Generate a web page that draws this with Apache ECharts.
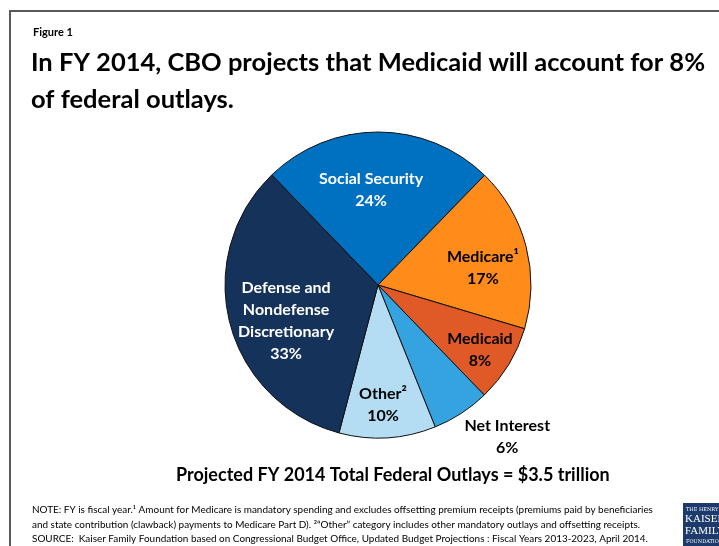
<!DOCTYPE html>
<html>
<head>
<meta charset="utf-8">
<style>
  html, body { margin: 0; padding: 0; background: #fff; }
  #chart { width: 719px; height: 546px; }
</style>
<script src="https://cdn.jsdelivr.net/npm/echarts@6/dist/echarts.min.js"></script>
</head>
<body>
<div id="chart"></div>
<script>
// Projected FY 2014 federal outlays by category (percent of total)
const categories = ['Social Security', 'Medicare', 'Medicaid', 'Net Interest', 'Other', 'Defense and Nondefense Discretionary'];
const shares = [24, 17, 8, 6, 10, 33];
const labelNames = ['Social Security', 'Medicare\u00B9', 'Medicaid', 'Net Interest', 'Other\u00B2', 'Defense and\nNondefense\nDiscretionary'];

// Slice styling
const sliceColors = ['#0070C0', '#FF8C1A', '#E05A28', '#35A3E0', '#B4DDF4', '#14325A'];
const labelColors = ['#ffffff', '#000000', '#000000', '#000000', '#000000', '#ffffff'];
// Label nudges from the default inside position, in px
const labelShift = [[-7, -16], [28, 3], [34, 24], [86, 85], [0, 40], [-15, 16]];

const FONT = 'Lato, "Open Sans", sans-serif';

const chart = echarts.init(document.getElementById('chart'), null, { renderer: 'canvas' });

const pieData = categories.map((name, i) => ({
  name: name,
  value: shares[i],
  itemStyle: { color: sliceColors[i] },
  label: { color: labelColors[i] }
}));

chart.setOption({
  backgroundColor: '#ffffff',
  animation: false,
  title: [
    {
      text: 'Figure 1',
      left: 28, top: 22,
      textStyle: { fontFamily: FONT, fontSize: 11, fontWeight: 'bold', color: '#000' }
    },
    {
      text: 'In FY 2014, CBO projects that Medicaid will account for 8%\nof federal outlays.',
      left: 26, top: 39,
      textStyle: { fontFamily: FONT, fontSize: 25.5, fontWeight: 'bold', color: '#000', lineHeight: 37 }
    },
    {
      text: 'Projected FY 2014 Total Federal Outlays = $3.5 trillion',
      left: 171, top: 461,
      textStyle: { fontFamily: FONT, fontSize: 18, fontWeight: 'bold', color: '#000' }
    },
    {
      text: 'NOTE: FY is fiscal year.\u00B9 Amount for Medicare is mandatory spending and excludes offsetting premium receipts (premiums paid by beneficiaries\n' +
            'and state contribution (clawback) payments to Medicare Part D). \u00B2\u201COther\u201D category includes other mandatory outlays and offsetting receipts.\n' +
            'SOURCE:  Kaiser Family Foundation based on Congressional Budget Office, Updated Budget Projections : Fiscal Years 2013-2023, April 2014.',
      left: 27, top: 498,
      textStyle: { fontFamily: FONT, fontSize: 9.95, fontWeight: 'normal', color: '#000', lineHeight: 14.5 }
    }
  ],
  graphic: [
    // figure frame
    {
      type: 'polyline', silent: true,
      shape: { points: [[10, 546], [10, 11], [719, 11]] },
      style: { stroke: '#595959', lineWidth: 2, fill: null }
    },
    // foundation logo block
    {
      type: 'group', left: 683, top: 503,
      children: [
        { type: 'rect', shape: { x: 0, y: 0, width: 40, height: 45 }, style: { fill: '#1C3A6B' } },
        { type: 'text', style: { x: 3, y: 4, text: 'THE HENRY', fill: '#fff', font: '5px "DejaVu Serif", serif' } },
        { type: 'text', style: { x: 2, y: 11, text: 'KAISER', fill: '#fff', font: '11px "Liberation Serif", serif' } },
        { type: 'text', style: { x: 2, y: 23, text: 'FAMILY', fill: '#fff', font: '11px "Liberation Serif", serif' } },
        { type: 'text', style: { x: 3, y: 36, text: 'FOUNDATION', fill: '#fff', font: '5px "DejaVu Serif", serif' } }
      ]
    }
  ],
  series: [
    {
      type: 'pie',
      center: [378, 285],
      radius: [0, 153],
      startAngle: 134,
      clockwise: true,
      avoidLabelOverlap: false,
      itemStyle: { borderColor: '#111', borderWidth: 1 },
      label: {
        show: true,
        position: 'inside',
        fontFamily: FONT,
        fontSize: 16,
        fontWeight: 'bold',
        lineHeight: 22,
        align: 'center',
        formatter: p => labelNames[p.dataIndex] + '\n' + p.value + '%'
      },
      labelLine: { show: false },
      labelLayout: p => ({ dx: labelShift[p.dataIndex][0], dy: labelShift[p.dataIndex][1] }),
      emphasis: { disabled: true },
      data: pieData
    }
  ]
});
</script>
</body>
</html>
